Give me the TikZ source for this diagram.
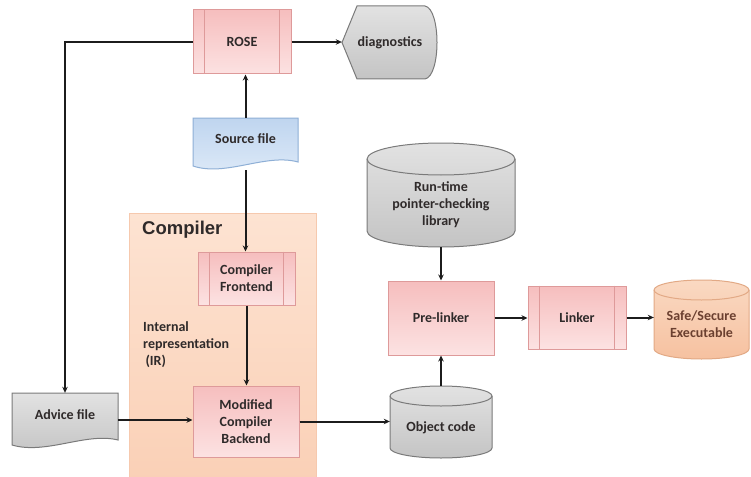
\documentclass[tikz,border=0pt]{standalone}
\usepackage{fontspec}
\setmainfont{Carlito}
\newfontfamily\headfont{Liberation Sans}
\usetikzlibrary{arrows.meta}
\definecolor{pinkT}{HTML}{F6BEBE}
\definecolor{pinkB}{HTML}{FCE2E2}
\definecolor{pinkD}{HTML}{DE9A9A}
\definecolor{blueT}{HTML}{BFD5EF}
\definecolor{blueB}{HTML}{DEEAF8}
\definecolor{blueD}{HTML}{8EAFD6}
\definecolor{greyT}{HTML}{E2E2E2}
\definecolor{greyB}{HTML}{C4C4C4}
\definecolor{greyD}{HTML}{7A7A7A}
\definecolor{oranT}{HTML}{FAD9C2}
\definecolor{oranB}{HTML}{F6C1A0}
\definecolor{oranD}{HTML}{E2A985}
\definecolor{compT}{HTML}{FDE3D2}
\definecolor{compB}{HTML}{FAD0B6}
\definecolor{compD}{HTML}{F6C9AE}
\definecolor{txt}{HTML}{2F2A2A}
\definecolor{safetxt}{HTML}{6B4030}
\definecolor{arrc}{HTML}{1C1C1C}
\newcommand{\drawcyl}[8]{%
  \pgfmathsetmacro{\cylrx}{(#3-#1)/2}%
  \path[draw=#8, line width=1pt, top color=#6, bottom color=#7]
    (#1,#2+#5) -- (#1,#4-#5)
    arc[start angle=180, end angle=0, x radius=\cylrx, y radius=#5]
    -- (#3,#2+#5)
    arc[start angle=0, end angle=-180, x radius=\cylrx, y radius=#5] -- cycle;
  \draw[#8, line width=1pt] (#1,#2+#5)
    arc[start angle=180, end angle=0, x radius=\cylrx, y radius=#5];
}
\newcommand{\innerlines}[1]{%
  \draw[pinkD, line width=0.8pt] ([xshift=12pt]#1.north west) -- ([xshift=12pt]#1.south west);
  \draw[pinkD, line width=0.8pt] ([xshift=-12pt]#1.north east) -- ([xshift=-12pt]#1.south east);
}
\begin{document}
\begin{tikzpicture}[x=1pt,y=-1pt,
  lbl/.style={font=\fontsize{14}{17}\selectfont\bfseries, text=txt, align=center, inner sep=0pt},
  pinkbox/.style={lbl, draw=pinkD, line width=1pt, top color=pinkT, bottom color=pinkB},
  ghost/.style={draw=none, inner sep=0pt},
  arr/.style={draw=arrc, line width=2pt, -{Stealth[length=6pt,width=5.5pt]}},
]
\useasboundingbox (0,0) rectangle (751,476);
\fill[white] (0,0) rectangle (751,476);

% compiler group
\path[draw=compD, line width=0.8pt, top color=compT, bottom color=compB] (129,213) rectangle (316,482);
\node[anchor=base west, font=\headfont\bfseries\fontsize{18.5}{21}\selectfont, text=txt, inner sep=0pt] (ctitle) at (142,234) {Compiler};

% nodes: pink process boxes
\node[pinkbox, minimum width=98pt, minimum height=64pt] (rose) at (242,42) {ROSE};
\innerlines{rose}
\node[pinkbox, minimum width=97pt, minimum height=53pt] (fe) at (246.5,278.5) {Compiler\\Frontend};
\innerlines{fe}
\node[pinkbox, minimum width=106pt, minimum height=71pt] (be) at (246,421.5) {Modified\\Compiler\\Backend};
\node[pinkbox, minimum width=106pt, minimum height=74pt] (pre) at (441,318) {Pre-linker};
\node[pinkbox, minimum width=98pt, minimum height=63pt] (lnk) at (577,317.5) {Linker};
\innerlines{lnk}

% diagnostics display shape
\node[ghost, minimum width=96pt, minimum height=73pt] (diag) at (390,42.5) {};
\path[draw=greyD, line width=1pt, top color=greyT, bottom color=greyB]
  (342,42.5) -- (357,6) -- (425,6) .. controls (441,9) and (441,76) .. (425,79) -- (357,79) -- cycle;
\node[lbl] (diagt) at (390,43) {diagnostics};

% source file document shape
\node[ghost, minimum width=105pt, minimum height=52pt] (src) at (245.5,144) {};
\path[draw=blueD, line width=1pt, top color=blueT, bottom color=blueB]
  (193,118) -- (298,118) -- (298,162) .. controls (266,153) and (226,177) .. (193,166) -- cycle;
\node[lbl] (srct) at (245.5,139) {Source file};

% advice file document shape
\node[ghost, minimum width=106pt, minimum height=54pt] (adv) at (65,420) {};
\path[draw=greyD, line width=1pt, top color=greyT, bottom color=greyB]
  (12,393) -- (118,393) -- (118,440) .. controls (86,432) and (46,455) .. (12,445) -- cycle;
\node[lbl] (advt) at (65,415) {Advice file};

% cylinders
\node[ghost, minimum width=148pt, minimum height=104pt] (rt) at (441,195) {};
\drawcyl{367}{143}{515}{247}{16}{greyT}{greyB}{greyD}
\node[lbl] (rtt) at ([yshift=-10pt]rt.center) {Run-time\\pointer-checking\\library};

\node[ghost, minimum width=102pt, minimum height=72pt] (obj) at (441,422) {};
\drawcyl{390}{386}{492}{458}{10}{greyT}{greyB}{greyD}
\node[lbl] (objt) at ([yshift=-6pt]obj.center) {Object code};

\node[ghost, minimum width=95pt, minimum height=79pt] (safe) at (701.5,319.5) {};
\drawcyl{654}{280}{749}{359}{10}{oranT}{oranB}{oranD}
\node[lbl, text=safetxt] (safet) at ([yshift=-5pt]safe.center) {Safe/Secure\\Executable};

% IR label
\node[lbl, anchor=north west, align=left] (ir) at (143,321) {Internal\\representation\\\,(IR)};

% connectors
\draw[arr] (src.north) -- (src.north |- rose.south);
\draw[arr] (src.south) -- (src.south |- fe.north);
\draw[arr] (fe.south) -- (fe.south |- be.north);
\draw[arr] (rose.west) -| (adv.north);
\draw[arr] (rose.east) -- (rose.east -| diag.west);
\draw[arr] (adv.east) -- (adv.east -| be.west);
\draw[arr] (be.east) -- (be.east -| obj.west);
\draw[arr] (obj.north) -- (pre.south);
\draw[arr] (rt.south) -- (pre.north);
\draw[arr] (pre.east) -- (pre.east -| lnk.west);
\draw[arr] (lnk.east) -- (lnk.east -| safe.west);
\end{tikzpicture}
\end{document}
